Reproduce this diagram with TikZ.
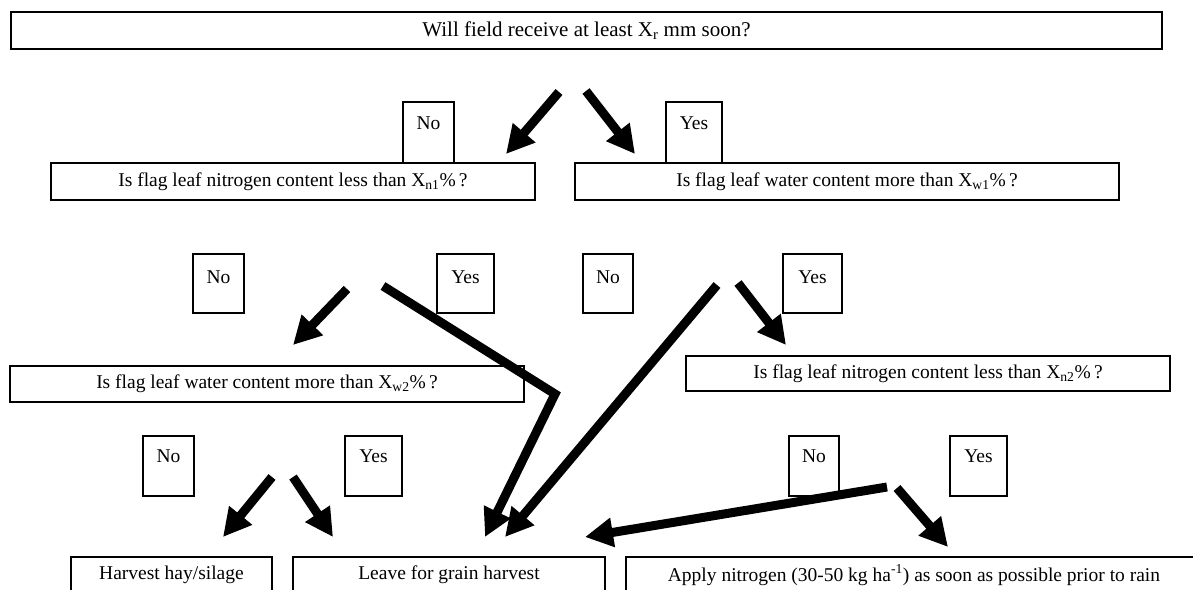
\documentclass[tikz,border=0pt]{standalone}
\usepackage{fontspec}
\setmainfont{Liberation Serif}
\usetikzlibrary{arrows.meta}
\begin{document}
\begin{tikzpicture}[x=1pt,y=-1pt,
  every node/.style={font=\fontsize{19.5}{23}\selectfont},
  qbox/.style={draw, line width=1.6pt, inner sep=0pt, minimum height=37pt},
  lbl/.style={draw, line width=1.6pt, inner sep=0pt, text height=13pt},
  fat/.style={line width=9pt, -{Triangle[width=28pt,length=28pt]}},
]
\useasboundingbox (0,0) rectangle (1193,589);
\clip (0,0) rectangle (1193,589);
\fill[white] (0,0) rectangle (1193,589);

% question boxes
\node[qbox, minimum width=1151pt, font=\fontsize{21}{25}\selectfont] (top) at (586.5,30.5) {Will field receive at least X\textsubscript{r} mm soon?};
\node[qbox, minimum width=484pt] (n1) at (293,181.5) {Is flag leaf nitrogen content less than X\textsubscript{n1}\%\,?};
\node[qbox, minimum width=544pt] (w1) at (847,181.5) {Is flag leaf water content more than X\textsubscript{w1}\%\,?};
\node[qbox, minimum width=514pt, minimum height=36pt] (w2) at (267,384) {Is flag leaf water content more than X\textsubscript{w2}\%\,?};
\node[qbox, minimum width=484pt, minimum height=35pt] (n2) at (928,373.5) {Is flag leaf nitrogen content less than X\textsubscript{n2}\%\,?};

% outcome boxes
\node[qbox, minimum width=201pt, minimum height=36pt] (hay) at (171.5,575) {Harvest hay/silage};
\node[qbox, minimum width=312pt, minimum height=36pt] (grain) at (449,575) {Leave for grain harvest};
\node[qbox, minimum width=576pt, minimum height=36pt] (apply) at (914,575) {Apply nitrogen (30-50 kg ha\textsuperscript{-1}) as soon as possible prior to rain};

% label boxes
\node[lbl, minimum width=51pt, minimum height=61pt, text depth=19pt] (no1) at (428.5,132.5) {No};
\node[lbl, minimum width=56pt, minimum height=61pt, text depth=19pt] (yes1) at (694,132.5) {Yes};
\node[lbl, minimum width=51pt, minimum height=59pt, text depth=13pt] (no2a) at (218.5,283.5) {No};
\node[lbl, minimum width=57pt, minimum height=59pt, text depth=13pt] (yes2a) at (465.5,283.5) {Yes};
\node[lbl, minimum width=50pt, minimum height=59pt, text depth=13pt] (no2b) at (608,283.5) {No};
\node[lbl, minimum width=59pt, minimum height=59pt, text depth=13pt] (yes2b) at (812.5,283.5) {Yes};
\node[lbl, minimum width=51pt, minimum height=60pt, text depth=20pt] (no3a) at (168.5,466) {No};
\node[lbl, minimum width=57pt, minimum height=60pt, text depth=20pt] (yes3a) at (373.5,466) {Yes};
\node[lbl, minimum width=50pt, minimum height=60pt, text depth=20pt] (no3b) at (814,466) {No};
\node[lbl, minimum width=57pt, minimum height=60pt, text depth=20pt] (yes3b) at (978.5,466) {Yes};

% arrow end points
\coordinate (a1s) at (559,92);  \coordinate (a1e) at (506,154);
\coordinate (a2s) at (586,91);  \coordinate (a2e) at (635,154);
\coordinate (a3s) at (347,289); \coordinate (a3e) at (293,345);
\coordinate (a4s) at (383,286); \coordinate (a4m) at (555,394); \coordinate (a4e) at (485,537);
\coordinate (a5s) at (717,285); \coordinate (a5e) at (505,537);
\coordinate (a6s) at (738,283); \coordinate (a6e) at (786,345);
\coordinate (a7s) at (272,477); \coordinate (a7e) at (223,537);
\coordinate (a8s) at (293,477); \coordinate (a8e) at (333,537);
\coordinate (a9s) at (887,487); \coordinate (a9e) at (585,537);
\coordinate (a10s) at (897,488); \coordinate (a10e) at (948,547);

\draw[fat] (a1s) -- (a1e);
\draw[fat] (a2s) -- (a2e);
\draw[fat] (a3s) -- (a3e);
\draw[fat] (a4s) -- (a4m) -- (a4e);
\draw[fat] (a5s) -- (a5e);
\draw[fat] (a6s) -- (a6e);
\draw[fat] (a7s) -- (a7e);
\draw[fat] (a8s) -- (a8e);
\draw[fat] (a9s) -- (a9e);
\draw[fat] (a10s) -- (a10e);
\end{tikzpicture}
\end{document}
